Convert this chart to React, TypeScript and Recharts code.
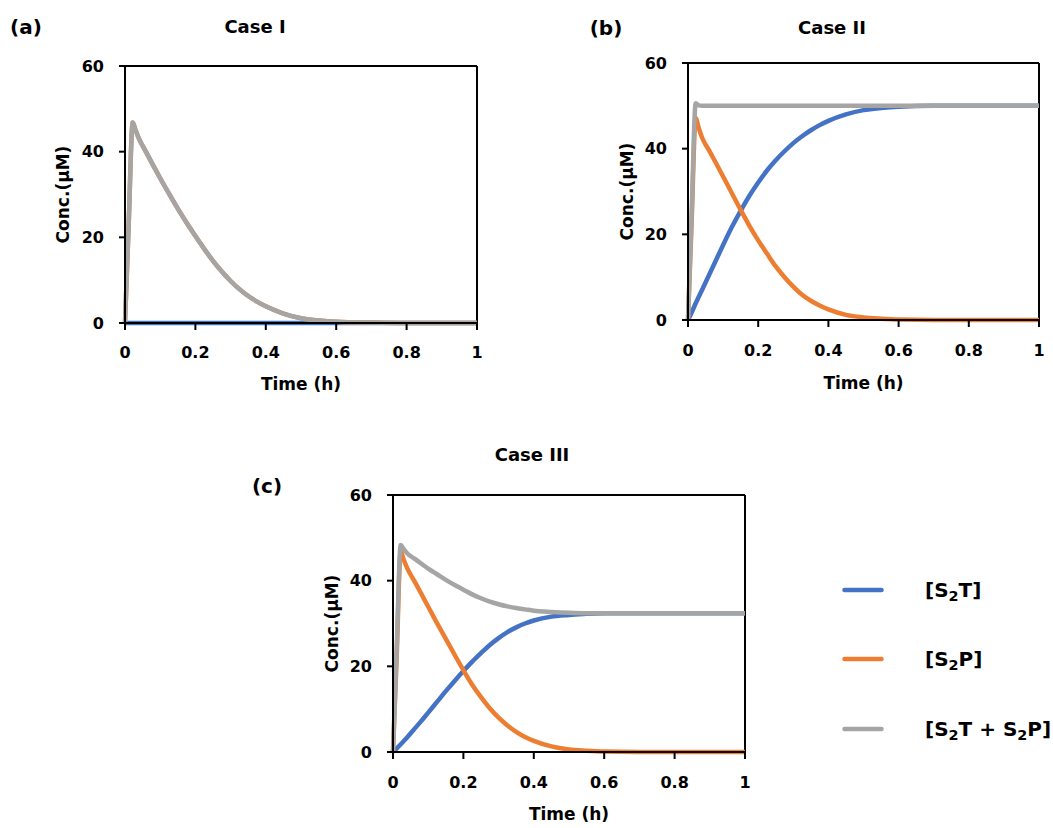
import React from "react";
import { LineChart, Line, XAxis, YAxis, ReferenceLine, Label, Legend } from "recharts";

// time points (h)
const time = [0, 0.01, 0.022, 0.03, 0.04, 0.06, 0.08, 0.1, 0.125, 0.15, 0.175, 0.2, 0.225, 0.25, 0.275, 0.3, 0.325, 0.35, 0.375, 0.4, 0.45, 0.5, 0.55, 0.6, 0.7, 0.8, 0.9, 1];

// Case I
const caseI_S2T = [0, 0, 0, 0, 0, 0, 0, 0, 0, 0, 0, 0, 0, 0, 0, 0, 0, 0, 0, 0, 0, 0, 0, 0, 0, 0, 0, 0];
const caseI_S2P = [0, 22, 46.8, 45.0, 43.0, 39.9, 36.8, 33.8, 30.2, 26.7, 23.4, 20.3, 17.3, 14.5, 12.0, 9.8, 7.9, 6.3, 5.0, 3.9, 2.2, 1.1, 0.6, 0.3, 0.1, 0, 0, 0];
const caseI_total = [0, 22, 46.8, 45.0, 43.0, 39.9, 36.8, 33.8, 30.2, 26.7, 23.4, 20.3, 17.3, 14.5, 12.0, 9.8, 7.9, 6.3, 5.0, 3.9, 2.2, 1.1, 0.6, 0.3, 0.1, 0, 0, 0];

// Case II
const caseII_S2T = [0, 1.7, 3.9, 5.3, 7.0, 10.5, 14.0, 17.5, 21.7, 25.5, 29.0, 32.1, 34.9, 37.3, 39.4, 41.3, 42.9, 44.3, 45.5, 46.5, 48.0, 49.0, 49.5, 49.8, 50, 50, 50, 50];
const caseII_S2P = [0, 22, 47.2, 45.0, 42.6, 39.6, 36.6, 33.5, 29.6, 25.7, 22.0, 18.6, 15.5, 12.5, 10.0, 7.8, 5.9, 4.5, 3.4, 2.5, 1.2, 0.6, 0.3, 0.1, 0, 0, 0, 0];
const caseII_total = [0, 24, 50.6, 50.1, 50, 50, 50, 50, 50, 50, 50, 50, 50, 50, 50, 50, 50, 50, 50, 50, 50, 50, 50, 50, 50, 50, 50, 50];

// Case III
const caseIII_S2T = [0, 0.8, 1.8, 2.5, 3.4, 5.3, 7.2, 9.2, 11.7, 14.2, 16.6, 18.9, 21.1, 23.1, 25.0, 26.6, 28.0, 29.1, 30.0, 30.7, 31.6, 32.0, 32.3, 32.4, 32.4, 32.4, 32.4, 32.4];
const caseIII_S2P = [0, 21, 46.8, 45.0, 43.0, 40.0, 37.0, 33.9, 30.1, 26.4, 22.7, 19.1, 15.7, 12.8, 10.2, 8.0, 6.2, 4.7, 3.5, 2.6, 1.3, 0.6, 0.3, 0.1, 0, 0, 0, 0];
const caseIII_total = [0, 23, 48.3, 47.4, 46.4, 45.2, 44.0, 42.8, 41.5, 40.2, 39.0, 37.9, 36.8, 35.9, 35.1, 34.5, 34.0, 33.6, 33.3, 33.0, 32.7, 32.5, 32.4, 32.4, 32.4, 32.4, 32.4, 32.4];

const seriesNames = ["[S2T]", "[S2P]", "[S2T + S2P]"];
const xTicks = [0, 0.2, 0.4, 0.6, 0.8, 1];
const yTicks = [0, 20, 40, 60];

const FONT = "'DejaVu Sans', sans-serif";
const colors = ["#4472C4", "#ED7D31", "#A5A5A5"];

const toRows = (t: number[], a: number[], b: number[], c: number[]) =>
  t.map((x, i) => ({ t: x, s2t: a[i], s2p: b[i], total: c[i] }));

const dataI = toRows(time, caseI_S2T, caseI_S2P, caseI_total);
const dataII = toRows(time, caseII_S2T, caseII_S2P, caseII_total);
const dataIII = toRows(time, caseIII_S2T, caseIII_S2P, caseIII_total);

const tickStyle = { fill: "#000", fontSize: 16, fontWeight: 700, fontFamily: FONT };
const labelStyle = { fill: "#000", fontSize: 17, fontWeight: 700, fontFamily: FONT };

const formatName = (name: string) => {
  const parts = name.split("S2");
  return parts.map((p, i) => (
    <React.Fragment key={i}>
      {p}
      {i < parts.length - 1 && (
        <>
          S<sub style={{ fontSize: "0.72em", verticalAlign: "-0.3em", lineHeight: 0 }}>2</sub>
        </>
      )}
    </React.Fragment>
  ));
};

const renderLegend = ({ payload }: any) => {
  const items = [...(payload || [])].sort(
    (a: any, b: any) => seriesNames.indexOf(a.value) - seriesNames.indexOf(b.value)
  );
  return (
    <div>
      {items.map((p: any, i: number) => (
        <div key={i} style={{ display: "flex", alignItems: "center", height: 69.5 }}>
          <svg width={42} height={8}>
            <line x1={2.5} y1={4} x2={39.5} y2={4} stroke={p.color} strokeWidth={4.5} strokeLinecap="round" />
          </svg>
          <span style={{ marginLeft: 41, fontFamily: FONT, fontWeight: 700, fontSize: 20, color: "#000", whiteSpace: "nowrap" }}>
            {formatName(p.value)}
          </span>
        </div>
      ))}
    </div>
  );
};

type PanelProps = {
  left: number;
  top: number;
  width: number;
  height: number;
  margin: { top: number; right: number; bottom: number; left: number };
  data: any[];
  yLabelOffset: number;
  xLabelOffset: number;
  xTickMargin: number;
  legend?: boolean;
};

const Panel = ({ left, top, width, height, margin, data, yLabelOffset, xLabelOffset, xTickMargin, legend }: PanelProps) => (
  <div style={{ position: "absolute", left, top }}>
    <LineChart width={width} height={height} data={data} margin={margin}>
      <XAxis
        dataKey="t"
        type="number"
        domain={[0, 1]}
        ticks={xTicks}
        height={60}
        tick={tickStyle}
        tickSize={7}
        tickMargin={xTickMargin}
        axisLine={{ stroke: "#000", strokeWidth: 2 }}
        tickLine={{ stroke: "#000", strokeWidth: 2 }}
      >
        <Label value="Time (h)" position="insideTop" offset={xLabelOffset} style={labelStyle} />
      </XAxis>
      <YAxis
        type="number"
        domain={[0, 60]}
        ticks={yTicks}
        width={85}
        tick={tickStyle}
        tickSize={6}
        tickMargin={15}
        axisLine={{ stroke: "#000", strokeWidth: 2 }}
        tickLine={{ stroke: "#000", strokeWidth: 2 }}
      >
        <Label
          value="Conc.(µM)"
          angle={-90}
          position="insideLeft"
          offset={yLabelOffset}
          style={{ ...labelStyle, textAnchor: "middle" }}
        />
      </YAxis>
      <ReferenceLine y={60} stroke="#000" strokeWidth={2} />
      <ReferenceLine x={1} stroke="#000" strokeWidth={2} />
      <Line type="monotone" dataKey="s2t" name={seriesNames[0]} stroke={colors[0]} strokeWidth={4.5} dot={false} strokeLinejoin="round" isAnimationActive={false} />
      <Line type="monotone" dataKey="s2p" name={seriesNames[1]} stroke={colors[1]} strokeWidth={4.5} dot={false} strokeLinejoin="round" isAnimationActive={false} />
      <Line type="monotone" dataKey="total" name={seriesNames[2]} stroke={colors[2]} strokeWidth={4.5} dot={false} strokeLinejoin="round" isAnimationActive={false} />
      {legend && (
        <Legend
          layout="vertical"
          align="center"
          verticalAlign="middle"
          content={renderLegend}
          wrapperStyle={{ left: 602, top: 125, width: 220 }}
        />
      )}
    </LineChart>
  </div>
);

const Title = ({ x, y, text, size }: { x: number; y: number; text: string; size: number }) => (
  <div
    style={{
      position: "absolute",
      left: x,
      top: y,
      transform: "translate(-50%, -50%)",
      fontFamily: FONT,
      fontWeight: 700,
      fontSize: size,
      lineHeight: 1,
      whiteSpace: "nowrap",
      color: "#000",
    }}
  >
    {text}
  </div>
);

export default function App() {
  return (
    <div style={{ position: "absolute", left: 0, top: 0, width: 1053, height: 828, background: "#fff", overflow: "hidden" }}>
      <Panel
        left={0}
        top={0}
        width={500}
        height={410}
        margin={{ top: 66, right: 23, bottom: 27, left: 40 }}
        data={dataI}
        yLabelOffset={23}
        xLabelOffset={55}
        xTickMargin={17}
      />
      <Panel
        left={530}
        top={0}
        width={523}
        height={410}
        margin={{ top: 63, right: 14, bottom: 30, left: 73 }}
        data={dataII}
        yLabelOffset={24}
        xLabelOffset={57}
        xTickMargin={18}
      />
      <Panel
        left={240}
        top={430}
        width={813}
        height={398}
        margin={{ top: 65, right: 308, bottom: 16, left: 68 }}
        data={dataIII}
        yLabelOffset={24}
        xLabelOffset={56}
        xTickMargin={18}
        legend
      />
      <Title x={26} y={27} text="(a)" size={20} />
      <Title x={255} y={27} text="Case I" size={18} />
      <Title x={606} y={28} text="(b)" size={20} />
      <Title x={832} y={28} text="Case II" size={18} />
      <Title x={267} y={486} text="(c)" size={20} />
      <Title x={532} y={455} text="Case III" size={18} />
    </div>
  );
}
